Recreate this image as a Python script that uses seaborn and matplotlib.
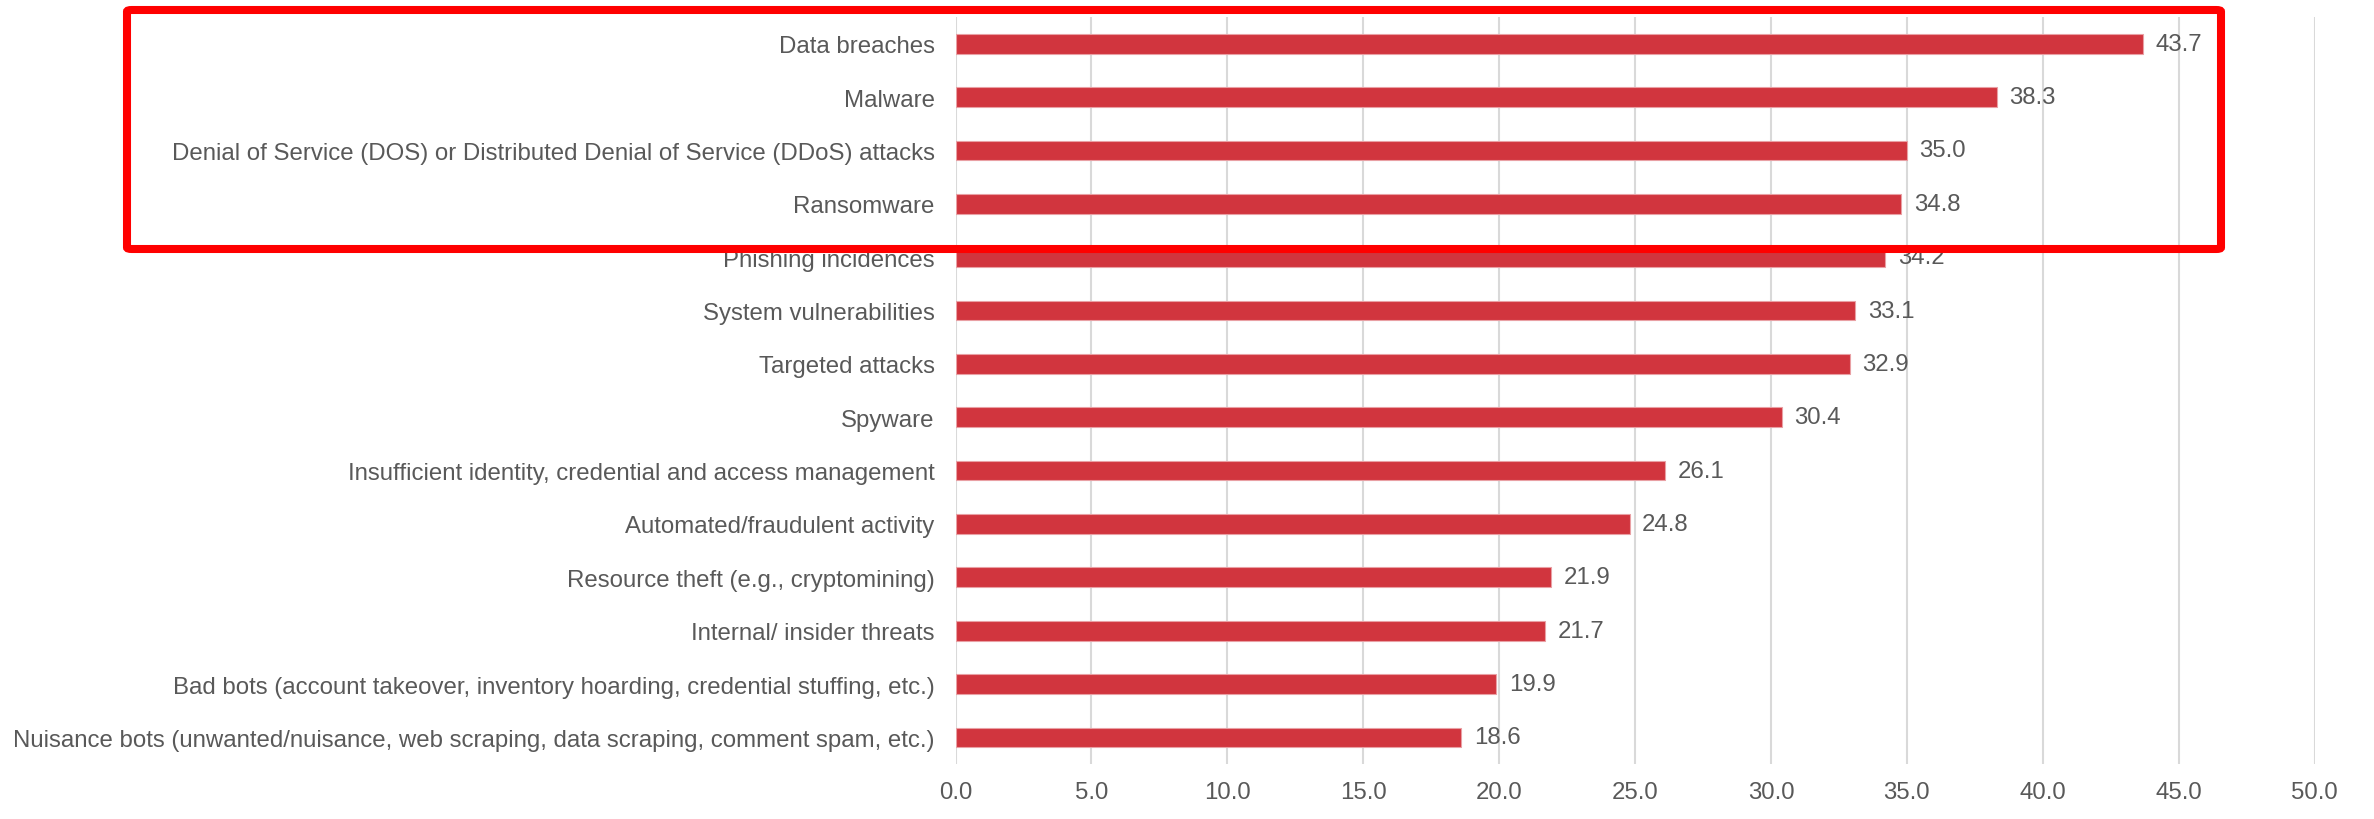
import matplotlib
matplotlib.use("Agg")
import matplotlib.pyplot as plt
import seaborn as sns
import pandas as pd
from matplotlib.patches import FancyBboxPatch

categories = [
    "Data breaches",
    "Malware",
    "Denial of Service (DOS) or Distributed Denial of Service (DDoS) attacks",
    "Ransomware",
    "Phishing incidences",
    "System vulnerabilities",
    "Targeted attacks",
    "Spyware",
    "Insufficient identity, credential and access management",
    "Automated/fraudulent activity",
    "Resource theft (e.g., cryptomining)",
    "Internal/ insider threats",
    "Bad bots (account takeover, inventory hoarding, credential stuffing, etc.)",
    "Nuisance bots (unwanted/nuisance, web scraping, data scraping, comment spam, etc.)",
]
values = [43.7, 38.3, 35.0, 34.8, 34.2, 33.1, 32.9, 30.4, 26.1, 24.8, 21.9, 21.7, 19.9, 18.6]
x_ticks = [0, 5, 10, 15, 20, 25, 30, 35, 40, 45, 50]

df = pd.DataFrame({"category": categories, "value": values})

sns.set_theme(style="white")
plt.rcParams["font.family"] = ["Liberation Sans", "DejaVu Sans"]

text_color = "#595959"
bar_color = "#D1353E"
fs = 17.3

fig = plt.figure(figsize=(23.74, 8.2), dpi=100)
ax = fig.add_axes([0.4025, 0.067, 0.975 - 0.4025, 0.978 - 0.067])

sns.barplot(data=df, x="value", y="category", orient="h", color=bar_color,
            width=0.37, saturation=1, ax=ax, edgecolor="#E9A0A4", linewidth=0.8,
            zorder=3)

ax.set_xlim(0, 50)
ax.set_ylim(len(categories) - 0.5, -0.5)
ax.set_xticks(x_ticks)
ax.set_xticklabels([f"{t:.1f}" for t in x_ticks])
ax.set_xlabel("")
ax.set_ylabel("")
for s in ax.spines.values():
    s.set_visible(False)
ax.grid(axis="x", color="#D9D9D9", linewidth=1.5, zorder=0)
ax.grid(axis="y", visible=False)
ax.set_axisbelow(True)
ax.tick_params(axis="x", length=0, pad=12, labelsize=fs, labelcolor=text_color)
ax.tick_params(axis="y", length=0, pad=15, labelsize=fs, labelcolor=text_color)

for i, v in enumerate(values):
    ax.annotate(f"{v:.1f}", xy=(v, i), xytext=(9, 0), textcoords="offset points",
                va="center", ha="left", fontsize=fs, color=text_color)

# red highlight rectangle (figure coordinates)
W, H = 2374, 820
x0, y0, x1, y1 = 127, 11, 2221, 250
rect = FancyBboxPatch((x0 / W, 1 - y1 / H), (x1 - x0) / W, (y1 - y0) / H,
                      boxstyle="round,pad=0,rounding_size=0.002",
                      transform=fig.transFigure, fill=False,
                      edgecolor="#FF0000", linewidth=5.8, zorder=10)
fig.patches.append(rect)

fig.savefig("out.png", dpi=100)
